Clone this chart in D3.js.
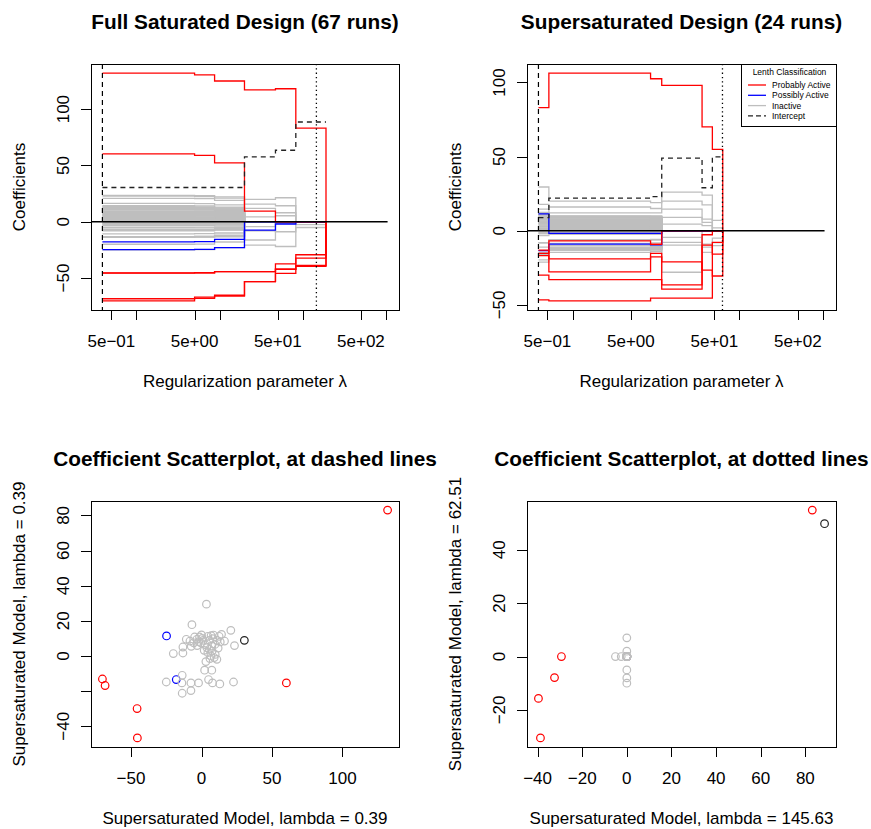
<!DOCTYPE html>
<html><head><meta charset="utf-8">
<script src="https://cdn.jsdelivr.net/npm/d3@7"></script>
<style>body{margin:0;background:#fff} text{font-family:"Liberation Sans",Arial,Helvetica,sans-serif;fill:#000}</style>
</head><body><svg id="c" width="871" height="829"></svg>
<script>
// ---------------- data ----------------
const fullLambda  = [0.39, 5.0, 8.7, 19.9, 46.9, 82.4, 190, 1045];
const superLambda = [0.39, 0.52, 8.6, 11.7, 35.6, 47.3, 63, 1045];
const dashedLambda = 0.39;
const dottedLambdaFull = 145.63;
const dottedLambdaSuper = 62.51;

// class per factor: P = Probably Active, M = Possibly Active, I = Inactive
const factorClass = ["P","P","P","P","P","P","M","M"].concat(Array(58).fill("I"));

// coefficient value on each lambda segment (full saturated design)
const fullCoef = [
 [132, 130.5, 125, 117.2, 118.1, 83.1],
 [60.2, 59, 52.3, 9.5, 0, 0],
 [-70.3, -68, -66, -53.2, -45.8, -38.7],
 [-68.4, -67, -65.3, -53.2, -42.2, -39.6],
 [-45.7, -45.5, -44.3, -44.3, -37.5, -29.3],
 [-45.5, -45.3, -44.3, -44.3, -42.2, -32.4],
 [-17.9, -17.7, -15.6, 0, 0, 0],
 [-24.8, -24.5, -23, -7.4, -2, 0],
 [3.5,3.4,3,0,0,0],[-6.8,-6.7,-6,0,0,0],[20.8,20.5,19,15.7,14.2,0],[23.4,23.2,22,19.8,21.3,0],
 [-20,-19.8,-18,0,0,0],[-13.2,-13,-12,0,0,0],[-13.2,-13,-12.5,0,0,0],[-10.8,-10.6,-10,0,0,0],
 [-8.2,-8,-7.5,0,0,0],[-4.9,-4.8,-4.5,0,0,0],[-3.3,-3.2,-3,0,0,0],[-1.4,-1.4,-1.2,0,0,0],
 [-7.3,-7.2,-6.8,0,0,0],[-3.1,-3,-2.8,0,0,0],[-0.5,-0.5,-0.4,0,0,0],[1.2,1.2,1,0,0,0],
 [4.5,4.4,4,0,0,0],[6.8,6.7,6.2,0,0,0],[5.6,5.5,5,0,0,0],[12.5,12.3,11.5,0,0,0],
 [14.2,14,13,4.4,5.3,0],[10.9,10.7,10,0,0,0],[13.3,13.1,12.2,0,0,0],[16.3,16.1,15,11.8,8,0],
 [9.5,9.4,8.8,0,0,0],[7.3,7.2,6.7,0,0,0],[3.8,3.7,3.4,0,0,0],[1.9,1.9,1.6,0,0,0],
 [4.5,4.4,4,0,0,0],[7.5,7.4,6.8,0,0,0],[9.7,9.6,9,0,0,0],[6.6,6.5,6,0,0,0],
 [10.9,10.8,10,0,0,0],[9,8.9,8.2,0,0,0],[3.1,3,2.7,0,0,0],[2.2,2.1,1.9,0,0,0],
 [7.3,7.2,6.7,0,0,0],[-13.7,-13.5,-12.5,-8,-8.9,-5.1],[-25,-24.7,-23,-20.7,-22,0],[-13.9,-13.7,-13.5,-16.2,0,0],
 [-7.5,-7.4,-7,-4.4,-1.5,-2.5],[-2.1,-2,-1.8,0,0,0],[5,4.9,4.5,0,0,0],[7.8,7.7,7.1,0,0,0],
 [13,12.8,12,0,0,0],[22.7,22.4,21,0,0,0],[-13.7,-13.5,-12.8,0,0,0],[-7.5,-7.4,-7,0,0,0],
 [-2,-2,-1.8,0,0,0],[0.5,0.5,0.4,0,0,0],[2.5,2.4,2.2,0,0,0],[8,7.9,7.3,0,0,0],
 [5.5,5.4,5,0,0,0],[-5.5,-5.4,-5,0,0,0],[11.8,11.6,10.8,0,0,0],[0,0,0,0,0,0],
 [8.5,8.4,7.8,0,0,0],[6,5.9,5.5,0,0,0]
];

// coefficient value on each lambda segment (supersaturated design)
const superCoef = [
 [83, 106.3, 102.5, 98, 70, 54.9],
 [-15.3, -6.8, -9.1, 0, 0, 0],
 [-13.1, -19, -17.6, -21, -26.6, -30.5],
 [-16.8, -27.7, -15.3, -36.5, -9.7, -15.7],
 [-29.9, -33, -33, -39.4, -2.7, 0],
 [-46.6, -47.3, -45.5, -45.5, -45.5, -7.9],
 [-13.4, -9, -9.5, 0, 0, 0],
 [11.4, -1.8, -1.8, 0, 0, 0],
 [29.5,20,19,26,24,7],[17.8,16,15,20,17.5,2],[14.6,12,12,14.6,7.9,0],[5.9,4,4,0,0,0],
 [1.4,1,1,0,0,0],[1.7,1.2,1.2,0,0,0],[5.1,3.5,3.4,0,0,0],[9.5,7,7,0,0,0],
 [8.5,6,6,0,0,0],[10.8,8,8,0,0,0],[9.5,7.5,7.2,0,0,0],[10.8,8.5,8.2,0,0,0],
 [5.5,4,4,0,0,0],[5.9,4.5,4.3,0,0,0],[7.4,5.5,5.4,0,0,0],[8.9,6.5,6.4,0,0,0],
 [11.2,9.5,9.3,0,0,0],[11.6,9,9,4.5,3.4,0],[8.9,6.8,6.6,0,0,0],[11.2,9.8,9.6,0,0,0],
 [12.3,10,10,9,5.6,0],[8.9,7.2,7,0,0,0],[8,6.2,6,0,0,0],[8.5,6.6,6.5,0,0,0],
 [6.6,5,4.9,0,0,0],[5.7,4.2,4.1,0,0,0],[4.7,3.5,3.4,0,0,0],[3.2,2.4,2.3,0,0,0],
 [1.9,1.5,1.4,0,0,0],[2.8,2.1,2,0,0,0],[0.9,0.7,0.6,0,0,0],[0.2,0.2,0.1,0,0,0],
 [-1.9,-1.5,-1.4,0,0,0],[-0.9,-0.7,-0.7,0,0,0],[-3.2,-2.5,-2.4,0,0,0],[-8.1,-6,-5.8,0,0,0],
 [-8.1,-6.5,-6.3,0,0,0],[-11,-8.5,-8.2,0,0,0],[-14.8,-11,-10.8,0,0,0],[-15.3,-12,-11.8,0,0,0],
 [-15.3,-12.5,-12.2,0,0,0],[-15.3,-11.5,-11.2,0,0,0],[-13.4,-10,-10,-4.5,-9,-5],[-15.3,-12.8,-12.5,0,0,0],
 [-15.9,-13,-13,-7.9,-14.6,-10],[-14.8,-11.8,-11.5,0,0,0],[-21.2,-14.6,-14,-9.7,-11,-8],[-19.7,-13,-12,-28,0,0],
 [8.2,6.2,6,0,0,0],[10,7.8,7.6,0,0,0],[6.5,5,4.8,0,0,0],[9.8,7.6,7.4,0,0,0],
 [3.8,2.9,2.8,0,0,0],[7.5,5.6,5.5,0,0,0],[4.5,3.4,3.3,0,0,0],[12,9.5,9.2,0,0,0],
 [11.9,9.2,9,0,0,0],[-1.5,-1.2,-1.1,0,0,0]
];

const fullIntercept  = [30.4, 30.4, 30.4, 57.6, 63.5, 88.6];
const superIntercept = [8.9, 22, 23, 49, 29, 49.8];

const lambdaTicks = [0.5, 1, 5, 10, 50, 100, 500, 1000];
const lambdaTickLabels = ["5e\u221201", "", "5e+00", "", "5e+01", "", "5e+02", ""];
const coefTicks = [-50, 0, 50, 100];
const sc1XTicks = [-50, 0, 50, 100];
const sc1YTicks = [-40, -20, 0, 20, 40, 60, 80];
const sc1YTickLabels = ["\u221240", "", "0", "20", "40", "60", "80"];
const sc2XTicks = [-40, -20, 0, 20, 40, 60, 80];
const sc2YTicks = [-20, 0, 20, 40];

const legendLabels = ["Probably Active", "Possibly Active", "Inactive", "Intercept"];
const classColor = {P: "#FF0000", M: "#0000FF", I: "#BEBEBE"};
const interceptColor = "#222";

// ---------------- drawing ----------------
const svg = d3.select("#c");
const FS = 17;
const fmt = v => v < 0 ? "\u2212" + Math.abs(v) : String(v);
const pad = ([a, b]) => { const d = b - a; return [a - 0.04 * d, b + 0.04 * d]; };
const padLog = ([a, b]) => { const lo = Math.log10(a), hi = Math.log10(b), d = hi - lo;
  return [Math.pow(10, lo - 0.04 * d), Math.pow(10, hi + 0.04 * d)]; };

const panels = {
  tl: {l: 91, t: 64, w: 308, h: 246},
  tr: {l: 527, t: 64, w: 309, h: 246},
  bl: {l: 91, t: 501, w: 308, h: 246},
  br: {l: 527, t: 501, w: 309, h: 246}
};

function frame(p, title, xTitle, yTitle, x, y, xt, xtl, yt, ytl) {
  const g = svg.append("g");
  const b = p.t + p.h;
  xt.forEach((v, i) => {
    const xx = Math.round(x(v)) + 0.5;
    g.append("line").attr("x1", xx).attr("x2", xx).attr("y1", b).attr("y2", b + 10).attr("stroke", "#000");
    if (xtl[i]) g.append("text").attr("x", x(v)).attr("y", b + 31).attr("text-anchor", "middle")
      .attr("dominant-baseline", "central").attr("font-size", FS).text(xtl[i]);
  });
  yt.forEach((v, i) => {
    const yy = Math.round(y(v)) + 0.5;
    g.append("line").attr("x1", p.l - 10).attr("x2", p.l).attr("y1", yy).attr("y2", yy).attr("stroke", "#000");
    if (ytl[i]) g.append("text").attr("transform", `translate(${p.l - 28},${y(v)}) rotate(-90)`)
      .attr("text-anchor", "middle").attr("dominant-baseline", "central").attr("font-size", FS).text(ytl[i]);
  });
  const cx = p.l + p.w / 2, cy = p.t + p.h / 2;
  g.append("text").attr("x", cx).attr("y", p.t - 43).attr("text-anchor", "middle").attr("dominant-baseline", "central")
    .attr("font-size", 20.8).attr("font-weight", "bold").text(title);
  g.append("text").attr("x", cx).attr("y", b + 71).attr("text-anchor", "middle").attr("dominant-baseline", "central")
    .attr("font-size", FS).text(xTitle);
  g.append("text").attr("transform", `translate(${p.l - 72},${cy}) rotate(-90)`).attr("text-anchor", "middle")
    .attr("dominant-baseline", "central").attr("font-size", FS).text(yTitle);
}
function box(p) {
  svg.append("rect").attr("x", p.l + 0.5).attr("y", p.t + 0.5).attr("width", p.w).attr("height", p.h)
    .attr("fill", "none").attr("stroke", "#000").attr("stroke-width", 1);
}

function pathPanel(p, lam, coef, icpt, dotted, title) {
  const x = d3.scaleLog().domain(padLog(d3.extent(lam))).range([p.l, p.l + p.w]);
  const all = coef.flat().concat(icpt);
  const y = d3.scaleLinear().domain(pad(d3.extent(all))).range([p.t + p.h, p.t]);
  const line = d3.line().x(d => x(d[0])).y(d => y(d[1])).curve(d3.curveStepAfter);
  const ptsOf = v => v.map((c, i) => [lam[i], c]).concat([[lam[6], 0]]);
  const order = ["I", "M", "P"];
  order.forEach(cls => {
    coef.forEach((v, k) => {
      if (factorClass[k] !== cls) return;
      svg.append("path").attr("d", line(ptsOf(v))).attr("fill", "none")
        .attr("stroke", classColor[cls]).attr("stroke-width", 1.3);
    });
  });
  // intercept
  const ip = icpt.map((c, i) => [lam[i], c]).concat([[lam[6], icpt[5]]]);
  svg.append("path").attr("d", line(ip)).attr("fill", "none").attr("stroke", interceptColor)
    .attr("stroke-width", 1.3).attr("stroke-dasharray", "5,4");
  // zero line
  svg.append("line").attr("x1", p.l).attr("x2", x(lam[7])).attr("y1", y(0)).attr("y2", y(0))
    .attr("stroke", "#000").attr("stroke-width", 1.3);
  // vertical markers
  svg.append("line").attr("x1", x(dashedLambda)).attr("x2", x(dashedLambda)).attr("y1", p.t).attr("y2", p.t + p.h)
    .attr("stroke", "#000").attr("stroke-width", 1.2).attr("stroke-dasharray", "5,4");
  svg.append("line").attr("x1", x(dotted)).attr("x2", x(dotted)).attr("y1", p.t).attr("y2", p.t + p.h)
    .attr("stroke", "#000").attr("stroke-width", 1.3).attr("stroke-dasharray", "1.3,3");
  box(p);
  frame(p, title, "Regularization parameter \u03bb", "Coefficients", x, y,
        lambdaTicks, lambdaTickLabels, coefTicks, coefTicks.map(fmt));
}

pathPanel(panels.tl, fullLambda, fullCoef, fullIntercept, dottedLambdaFull, "Full Saturated Design (67 runs)");
pathPanel(panels.tr, superLambda, superCoef, superIntercept, dottedLambdaSuper, "Supersaturated Design (24 runs)");

// legend
(function () {
  const lx = 741, ly = 64, lw = 95, lh = 62;
  svg.append("rect").attr("x", lx + 0.5).attr("y", ly + 0.5).attr("width", lw).attr("height", lh)
    .attr("fill", "#fff").attr("stroke", "#000");
  svg.append("text").attr("x", lx + lw / 2 + 1).attr("y", ly + 7.5).attr("text-anchor", "middle")
    .attr("dominant-baseline", "central").attr("font-size", 8.5).text("Lenth Classification");
  const cols = [classColor.P, classColor.M, classColor.I, interceptColor];
  legendLabels.forEach((t, i) => {
    const yy = ly + 21 + i * 10.3;
    const ln = svg.append("line").attr("x1", 748).attr("x2", 766).attr("y1", yy).attr("y2", yy)
      .attr("stroke", cols[i]).attr("stroke-width", 1.3);
    if (i === 3) ln.attr("stroke-dasharray", "5,3");
    svg.append("text").attr("x", 772).attr("y", yy).attr("dominant-baseline", "central")
      .attr("font-size", 8.5).text(t);
  });
})();

function scatterPanel(p, xs, ys, ix, iy, xt, xtl, yt, ytl, title, xTitle, yTitle) {
  const x = d3.scaleLinear().domain(pad(d3.extent(xs.concat([ix])))).range([p.l, p.l + p.w]);
  const y = d3.scaleLinear().domain(pad(d3.extent(ys.concat([iy])))).range([p.t + p.h, p.t]);
  ["P", "M", "I"].forEach(cls => {
    xs.forEach((v, k) => {
      if (factorClass[k] !== cls) return;
      svg.append("circle").attr("cx", x(v)).attr("cy", y(ys[k])).attr("r", 3.8)
        .attr("fill", "none").attr("stroke", classColor[cls]).attr("stroke-width", 1.2);
    });
  });
  svg.append("circle").attr("cx", x(ix)).attr("cy", y(iy)).attr("r", 3.8)
    .attr("fill", "none").attr("stroke", interceptColor).attr("stroke-width", 1.2);
  box(p);
  frame(p, title, xTitle, yTitle, x, y, xt, xtl, yt, ytl);
}

const seg1F = d3.bisectRight(fullLambda, dashedLambda) - 1;
const seg1S = d3.bisectRight(superLambda, dashedLambda) - 1;
const seg2F = d3.bisectRight(fullLambda, dottedLambdaFull) - 1;
const seg2S = d3.bisectRight(superLambda, dottedLambdaSuper) - 1;

scatterPanel(panels.bl, fullCoef.map(v => v[seg1F]), superCoef.map(v => v[seg1S]),
  fullIntercept[seg1F], superIntercept[seg1S],
  sc1XTicks, sc1XTicks.map(fmt), sc1YTicks, sc1YTickLabels,
  "Coefficient Scatterplot, at dashed lines",
  "Supersaturated Model, lambda = 0.39", "Supersaturated Model, lambda = 0.39");

scatterPanel(panels.br, fullCoef.map(v => v[seg2F]), superCoef.map(v => v[seg2S]),
  fullIntercept[seg2F], superIntercept[seg2S],
  sc2XTicks, sc2XTicks.map(fmt), sc2YTicks, sc2YTicks.map(fmt),
  "Coefficient Scatterplot, at dotted lines",
  "Supersaturated Model, lambda = 145.63", "Supersaturated Model, lambda = 62.51");
</script></body></html>
